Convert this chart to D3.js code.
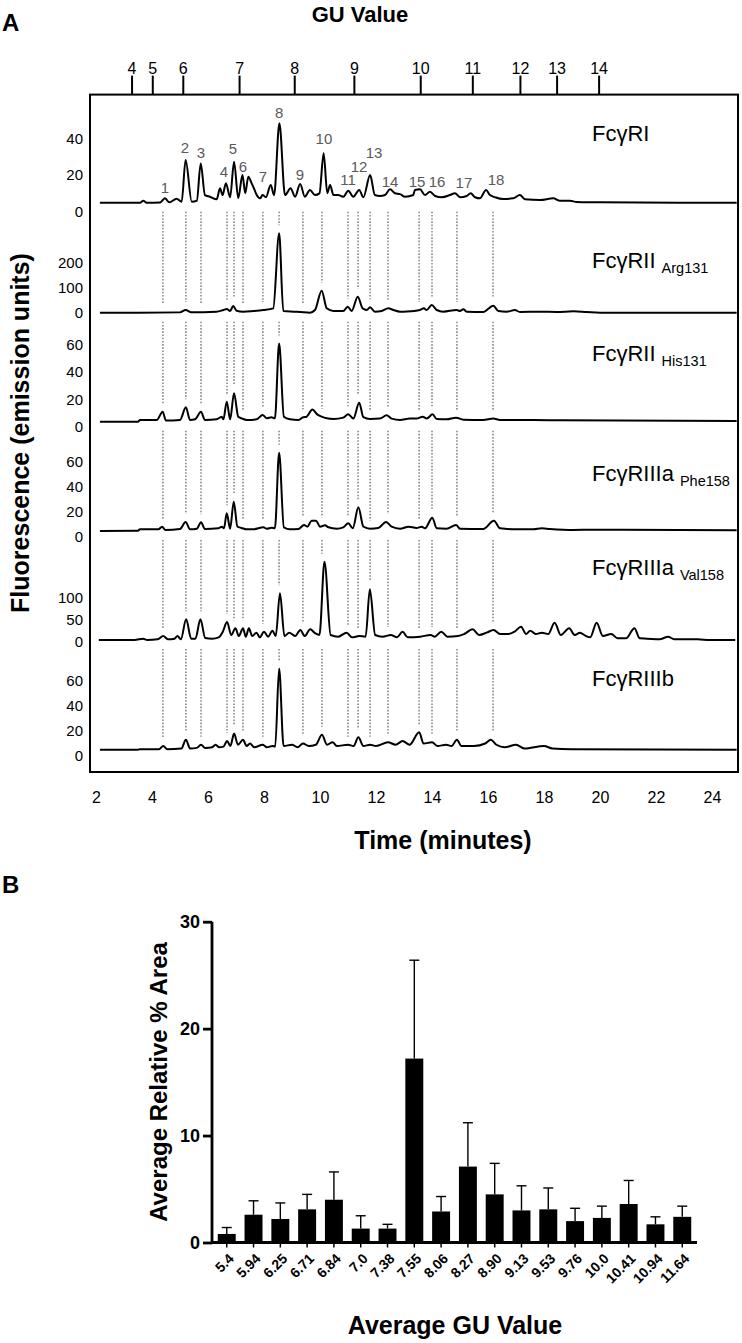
<!DOCTYPE html>
<html><head><meta charset="utf-8">
<script src="https://cdn.jsdelivr.net/npm/d3@7"></script>
<style>body{margin:0;background:#fff} svg{display:block} text{font-family:"Liberation Sans",Arial,Helvetica,sans-serif}</style>
</head><body><svg id="c" width="742" height="1343"></svg>
<script>
// ---------------- DATA ----------------
const timeTicks = [2,4,6,8,10,12,14,16,18,20,22,24];
const guTicks = [4,5,6,7,8,9,10,11,12,13,14];
const guTimes = [3.27,4.01,5.10,7.11,9.08,11.21,13.58,15.44,17.14,18.45,19.95];
const peakNumbers = ["1","2","3","4","5","6","7","8","9","10","11","12","13","14","15","16","17","18"];
const peakTimes = [4.39,5.21,5.75,6.68,6.93,7.25,7.96,8.54,9.39,10.07,11.0,11.36,11.79,12.43,13.54,14.0,14.89,16.18];
const panelNames = ["FcγRI","FcγRII","FcγRII","FcγRIIIa","FcγRIIIa","FcγRIIIb"];
const panelSubs = ["","Arg131","His131","Phe158","Val158",""];
const panelTicks = [[0,20,40],[0,100,200],[0,20,40,60],[0,20,40,60],[0,50,100],[0,20,40,60]];

const traceRI = [[2.14,4.9],[3.57,4.9],[3.69,6.0],[3.81,4.9],[4.29,5.0],[4.46,7.3],[4.62,5.2],[4.88,7.1],[5.06,5.5],[5.20,28.3],[5.42,5.5],[5.60,6],[5.74,26.4],[5.89,9.1],[6.07,8.2],[6.31,6.8],[6.43,12.8],[6.52,9.1],[6.64,15.5],[6.79,7.9],[6.93,27.3],[7.08,7.3],[7.23,20],[7.33,10.1],[7.44,19.1],[7.56,15.5],[7.64,12.8],[7.74,9.1],[7.86,7.3],[7.95,9.1],[8.07,7.9],[8.24,14.6],[8.36,9],[8.55,48.3],[8.75,9.1],[8.95,12.8],[9.11,8.2],[9.29,15.1],[9.46,8.2],[9.64,11.9],[9.82,9.1],[9.98,10],[10.13,31.9],[10.26,10.1],[10.36,14.6],[10.48,9.1],[10.65,9.1],[10.83,8.2],[11.01,11.5],[11.19,8.2],[11.40,11.9],[11.55,7.9],[11.79,20],[11.96,9.1],[12.14,8.6],[12.32,9.1],[12.50,12.2],[12.68,10.1],[12.86,9.6],[13.04,8.2],[13.33,9.1],[13.39,11.9],[13.57,12.2],[13.75,9.1],[13.93,10.9],[14.11,8.6],[14.35,7.9],[14.64,9.1],[14.82,10.1],[15.00,7.9],[15.24,8.6],[15.38,10.1],[15.54,7.9],[15.71,7.3],[15.93,11.9],[16.07,9.1],[16.25,7.9],[16.55,6.9],[16.90,7.3],[17.14,9.1],[17.32,6.8],[17.86,6.4],[18.33,7.3],[18.57,6.0],[18.93,6.0],[19.17,5.3],[20.0,5.1],[24.88,4.9]];

const traceRIIArg = [[2.14,1.3],[3.5,1.3],[5.0,2.5],[5.2,12],[5.4,3],[6.3,5],[6.55,12],[6.67,16],[6.79,8],[6.90,28],[7.02,9.3],[7.26,5.3],[7.62,8],[7.98,12],[8.33,18.7],[8.54,318.7],[8.69,8],[9.05,5.3],[9.29,4],[9.64,1.3],[9.82,12],[10.06,89.3],[10.24,18.7],[10.48,8],[10.83,8],[10.99,25.3],[11.13,8],[11.35,65.3],[11.52,18.7],[11.67,12],[11.79,22.7],[11.96,5.3],[12.2,8],[12.44,18.7],[12.62,12],[12.86,5.3],[13.1,6],[13.57,12],[13.71,18.7],[13.81,12],[13.99,32],[14.17,12],[14.40,5.3],[14.88,12],[15.0,8],[15.12,14.7],[15.24,5.3],[15.83,4],[16.19,29.3],[16.37,8],[16.67,5.3],[16.96,12],[17.14,4],[17.86,5.3],[18.45,4],[19.05,6.7],[19.52,4],[20.0,1.3],[24.88,1.3]];

const traceRIIHis = [[2.14,3.9],[3.5,3.9],[3.57,5.1],[4.17,5.1],[4.38,11.1],[4.5,4.7],[5.0,5.1],[5.21,14.3],[5.36,5.1],[5.54,5.6],[5.75,11.1],[5.89,5.1],[6.31,5.6],[6.49,7.5],[6.55,5.6],[6.67,18.4],[6.79,5.6],[6.93,24.5],[7.08,7.5],[7.20,6.3],[7.38,5.1],[7.74,5.6],[7.95,8.7],[8.10,6.3],[8.27,7.1],[8.39,6.3],[8.54,60.8],[8.71,7.5],[8.93,5.6],[9.23,5.1],[9.40,7.1],[9.52,7.5],[9.73,12.8],[9.90,9.2],[10.06,7.5],[10.24,6.3],[10.48,5.8],[10.83,6.8],[11.01,9.2],[11.19,6.1],[11.40,17.7],[11.55,7.1],[11.79,5.8],[12.14,6.1],[12.38,8.5],[12.56,6.1],[12.86,5.1],[13.21,6.1],[13.45,6.1],[13.67,7.5],[13.81,6.1],[14.02,9.2],[14.17,5.8],[14.52,5.6],[14.86,6.8],[15.12,5.3],[15.83,5.1],[16.19,6.1],[16.43,5.1],[17.62,5.1],[18.57,4.9],[24.88,4.4]];

const traceRIIIaPhe = [[2.14,4.6],[3.5,4.8],[3.57,5.9],[4.23,5.9],[4.36,8.0],[4.48,5.4],[5.0,6.2],[5.20,11.8],[5.36,5.9],[5.6,6.4],[5.75,11.5],[5.89,6.2],[6.37,6.7],[6.49,8.0],[6.57,6.7],[6.67,18.7],[6.79,6.4],[6.92,28],[7.05,8.0],[7.20,7.0],[7.38,5.9],[7.62,5.9],[7.98,7.5],[8.10,6.4],[8.27,7.2],[8.39,6.7],[8.54,67.2],[8.71,7.5],[8.93,5.9],[9.23,6.2],[9.43,9.4],[9.55,8.0],[9.70,12.8],[9.86,12.8],[10.0,8.0],[10.18,9.1],[10.30,7.5],[10.60,6.4],[10.83,7.5],[11.01,10.7],[11.17,6.7],[11.37,23.5],[11.55,8.0],[11.79,6.4],[12.08,7.0],[12.36,11.8],[12.56,8.0],[12.86,6.4],[13.16,8.0],[13.45,7.0],[13.63,8.0],[13.75,6.7],[14.01,15.2],[14.17,6.7],[14.52,6.4],[14.86,9.4],[15.0,6.4],[15.83,6.2],[16.21,12.8],[16.43,6.7],[17.02,5.9],[17.62,5.9],[17.92,6.7],[18.21,6.2],[19.05,5.4],[19.7,5.6],[24.88,5.1]];

const traceRIIIaVal = [[2.10,4.5],[3.38,4.5],[3.68,7.6],[3.83,4.5],[4.20,6.1],[4.40,13.6],[4.58,6.1],[4.80,7.6],[4.91,13.6],[5.03,6.1],[5.22,51.5],[5.40,7.6],[5.55,7.6],[5.73,51.5],[5.90,9.1],[6.15,7.6],[6.38,10.6],[6.53,23.5],[6.68,45.5],[6.83,15.9],[6.98,31.1],[7.10,13.6],[7.25,31.1],[7.35,12.1],[7.46,31.1],[7.58,13.6],[7.73,21.2],[7.85,10.6],[8.00,23.5],[8.15,12.1],[8.30,25.8],[8.42,13.6],[8.57,110.6],[8.73,13.6],[8.90,21.2],[9.11,13.6],[9.30,27.3],[9.45,13.6],[9.65,28.8],[9.83,19.7],[9.98,15.9],[10.16,182.6],[10.38,15.9],[10.65,12.1],[10.95,21.2],[11.15,10.6],[11.40,13.6],[11.63,12.1],[11.78,119.7],[11.97,15.9],[12.23,12.1],[12.53,15.9],[12.75,10.6],[12.95,23.5],[13.13,10.6],[13.58,12.1],[13.95,15.9],[14.10,12.1],[14.33,23.5],[14.55,12.1],[14.93,13.6],[15.15,18.2],[15.45,28.8],[15.68,15.9],[15.95,21.2],[16.20,27.3],[16.43,18.2],[16.73,18.2],[16.95,23.5],[17.18,34.9],[17.36,18.2],[17.51,25.8],[17.70,18.2],[17.93,21.2],[18.15,18.2],[18.38,44.0],[18.60,15.9],[18.90,31.1],[19.10,15.9],[19.28,21.2],[19.50,13.6],[19.65,10.6],[19.88,44.0],[20.10,13.6],[20.40,18.2],[20.63,8.3],[20.93,8.3],[21.23,31.1],[21.42,8.3],[21.68,7.6],[22.13,6.1],[22.43,12.1],[22.65,6.1],[23.03,6.1],[23.48,6.1],[23.93,4.5],[24.83,4.5]];

const traceRIIIb = [[2.14,5],[3.5,5],[3.57,5.5],[4.25,5.5],[4.4,8],[4.55,5.5],[5.05,6],[5.21,13],[5.36,6],[5.6,6.5],[5.75,9],[5.9,6.5],[6.15,7],[6.27,9],[6.4,7],[6.55,7.5],[6.68,12],[6.8,8],[6.93,18],[7.07,9],[7.25,13],[7.38,8],[7.5,10],[7.65,7],[7.96,9],[8.1,7],[8.3,8],[8.4,7.5],[8.54,70],[8.7,8],[9.0,9],[9.2,7],[9.39,10],[9.6,8],[9.85,9],[10.07,17],[10.25,9],[10.45,11],[10.6,8],[11.0,9],[11.2,8],[11.37,15],[11.55,8],[11.79,9],[12.0,8],[12.43,11],[12.7,9],[12.95,12],[13.2,9],[13.54,19],[13.7,10],[14.0,11],[14.2,8],[14.5,9],[14.7,8],[14.89,13],[15.05,8],[15.5,8],[15.9,10],[16.1,13],[16.3,9],[16.6,7],[17.0,9],[17.3,6],[18.0,8],[18.3,6],[19.0,5.5],[24.88,5]];

const traces = [traceRI, traceRIIArg, traceRIIHis, traceRIIIaPhe, traceRIIIaVal, traceRIIIb];

const barCategories = ["5.4","5.94","6.25","6.71","6.84","7.0","7.38","7.55","8.06","8.27","8.90","9.13","9.53","9.76","10.0","10.41","10.94","11.64"];
const barMeans =  [0.8,2.6,2.2,3.1,4.0,1.3,1.3,17.2,2.9,7.1,4.5,3.0,3.1,2.0,2.3,3.6,1.7,2.4];
const barErrTop = [1.4,3.9,3.7,4.5,6.6,2.5,1.7,26.4,4.3,11.2,7.4,5.3,5.1,3.2,3.4,5.8,2.4,3.4];
const barTicks = [0,10,20,30];

// ---------------- LAYOUT ----------------
const svg = d3.select("#c");
const box = {l:90, r:738, t:94.6, b:772};
const x = d3.scaleLinear().domain([2,24]).range([96,712]);
const panelZero = [211.7, 313, 427, 536.7, 642, 756];
const panelK = [1.83, 0.25, 1.375, 1.25, 0.44, 1.25];
const labelY = [133, 260, 353, 473, 567, 678];
const yScales = panelZero.map((z,i)=>d3.scaleLinear().domain([0,100]).range([z, z-100*panelK[i]]));
// label nudges (layout only) [dx, dy]
const labelNudge = [[2,2],[-1,1],[0,2],[-3,1],[-1,0],[0,5],[0,-5],[0,2],[-3,4],[2,-2],[0,2],[1,-10],[4,-9],[2,5],[-2,5],[5,3],[7,3],[3,-2]];

// box
svg.append("rect").attr("x",box.l).attr("y",box.t).attr("width",box.r-box.l).attr("height",box.b-box.t)
  .attr("fill","none").attr("stroke","#000").attr("stroke-width",2);

// letters/titles
svg.append("text").attr("x",2).attr("y",31).attr("font-size",24).attr("font-weight","bold").text("A");
svg.append("text").attr("x",2).attr("y",893).attr("font-size",24).attr("font-weight","bold").text("B");
svg.append("text").attr("x",360).attr("y",22).attr("text-anchor","middle").attr("font-size",22).attr("font-weight","bold").text("GU Value");

// GU axis (top)
const guAxis = d3.axisTop(x).tickValues(guTimes).tickSize(19).tickFormat((d,i)=>guTicks[i]);
const gGU = svg.append("g").attr("transform",`translate(0,${box.t})`).call(guAxis);
gGU.select(".domain").remove();
gGU.selectAll("line").attr("stroke-width",2);
gGU.selectAll("text").attr("font-size",16).attr("font-family","Liberation Sans, Arial, sans-serif").attr("dy","0.1em");

// time axis (bottom) - labels only
const tAxis = d3.axisBottom(x).tickValues(timeTicks).tickSize(0).tickPadding(20);
const gT = svg.append("g").attr("transform",`translate(0,${box.b})`).call(tAxis);
gT.select(".domain").remove();
gT.selectAll("text").attr("font-size",16).attr("font-family","Liberation Sans, Arial, sans-serif");
svg.append("text").attr("x",443).attr("y",849).attr("text-anchor","middle").attr("font-size",25).attr("font-weight","bold").text("Time (minutes)");

svg.append("text").attr("transform","translate(29,433) rotate(-90)").attr("text-anchor","middle")
  .attr("font-size",25).attr("font-weight","bold").text("Fluorescence (emission units)");

// helpers
function localMax(tr, t, w){
  let m = -Infinity;
  for(let i=0;i<tr.length-1;i++){
    const a=tr[i], b=tr[i+1];
    if(t>=a[0] && t<=b[0]){ m=Math.max(m, a[1]+(b[1]-a[1])*(t-a[0])/(b[0]-a[0])); }
  }
  tr.forEach(p=>{ if(Math.abs(p[0]-t)<=w) m=Math.max(m,p[1]); });
  return m;
}

// dotted connector lines
for(let p=1;p<6;p++){
  const prevBase = yScales[p-1](traces[p-1][0][1]) + 9;
  peakTimes.forEach(pt=>{
    const top = yScales[p](localMax(traces[p], pt, 0.12)) - 8;
    svg.append("line").attr("x1",x(pt)).attr("x2",x(pt)).attr("y1",prevBase).attr("y2",top)
      .attr("stroke","#8a8a8a").attr("stroke-width",1.6).attr("stroke-dasharray","1.6,1.6");
  });
}

// traces
traces.forEach((tr,i)=>{
  const y = yScales[i];
  const line = d3.line().x(d=>x(d[0])).y(d=>y(d[1])).curve(d3.curveMonotoneX);
  svg.append("path").attr("d",line(tr)).attr("fill","none").attr("stroke","#000").attr("stroke-width",2).attr("stroke-linejoin","round");
  panelTicks[i].forEach(v=>{
    svg.append("text").attr("x",83).attr("y",y(v)).attr("dy","0.35em").attr("text-anchor","end")
      .attr("font-size",15).text(v);
  });
  const t = svg.append("text").attr("x",592).attr("y",labelY[i]).attr("dy","0.35em").attr("font-size",22).text(panelNames[i]);
  if(panelSubs[i]) t.append("tspan").attr("font-size",14.5).attr("dx",6).attr("dy","0.35em").text(panelSubs[i]);
});

// peak number labels on first trace
peakTimes.forEach((pt,i)=>{
  const v = localMax(traceRI, pt, 0.15);
  const n = labelNudge[i];
  svg.append("text").attr("x",x(pt)+n[0]).attr("y",yScales[0](v)-13+n[1]).attr("dy","0.35em")
    .attr("text-anchor","middle").attr("font-size",15).attr("fill","#5a5a5a").text(peakNumbers[i]);
});

// ---------------- BAR CHART ----------------
const bx = d3.scaleBand().domain(barCategories).range([212,697]).paddingInner(0.33).paddingOuter(0.215);
const by = d3.scaleLinear().domain([0,30]).range([1242.5,921.7]);
const g = svg.append("g");
g.selectAll("rect.bar").data(barCategories).enter().append("rect")
  .attr("x",d=>bx(d)).attr("width",bx.bandwidth())
  .attr("y",(d,i)=>by(barMeans[i])).attr("height",(d,i)=>by(0)-by(barMeans[i])).attr("fill","#000");
barCategories.forEach((c,i)=>{
  const cx = bx(c)+bx.bandwidth()/2;
  g.append("line").attr("x1",cx).attr("x2",cx).attr("y1",by(barMeans[i])).attr("y2",by(barErrTop[i])).attr("stroke","#000").attr("stroke-width",1.4);
  g.append("line").attr("x1",cx-5).attr("x2",cx+5).attr("y1",by(barErrTop[i])).attr("y2",by(barErrTop[i])).attr("stroke","#000").attr("stroke-width",1.4);
});
const yAx = d3.axisLeft(by).tickValues(barTicks).tickSize(9).tickPadding(3);
const gy = svg.append("g").attr("transform","translate(212,0)").call(yAx);
gy.select(".domain").attr("stroke-width",2.8).attr("d",`M0,${by(30)}V${by(0)}`);
gy.selectAll("line").attr("stroke-width",2.8);
gy.selectAll("text").attr("font-size",18).attr("font-weight","bold").attr("font-family","Liberation Sans, Arial, sans-serif");
const xAx = d3.axisBottom(bx).tickSize(5).tickPadding(2);
const gx = svg.append("g").attr("transform",`translate(0,${by(0)})`).call(xAx);
gx.select(".domain").attr("stroke-width",2.8).attr("d","M212,0H697");
gx.selectAll("line").attr("stroke-width",1.5);
gx.selectAll("text").attr("font-size",14).attr("font-weight","bold").attr("font-family","Liberation Sans, Arial, sans-serif")
  .attr("text-anchor","end").attr("dy","0").attr("transform","translate(3,12) rotate(-45)");
svg.append("text").attr("transform","translate(167,1082) rotate(-90)").attr("text-anchor","middle")
  .attr("font-size",24).attr("font-weight","bold").text("Average Relative % Area");
svg.append("text").attr("x",455).attr("y",1334).attr("text-anchor","middle").attr("font-size",25).attr("font-weight","bold").text("Average GU Value");
</script></body></html>
